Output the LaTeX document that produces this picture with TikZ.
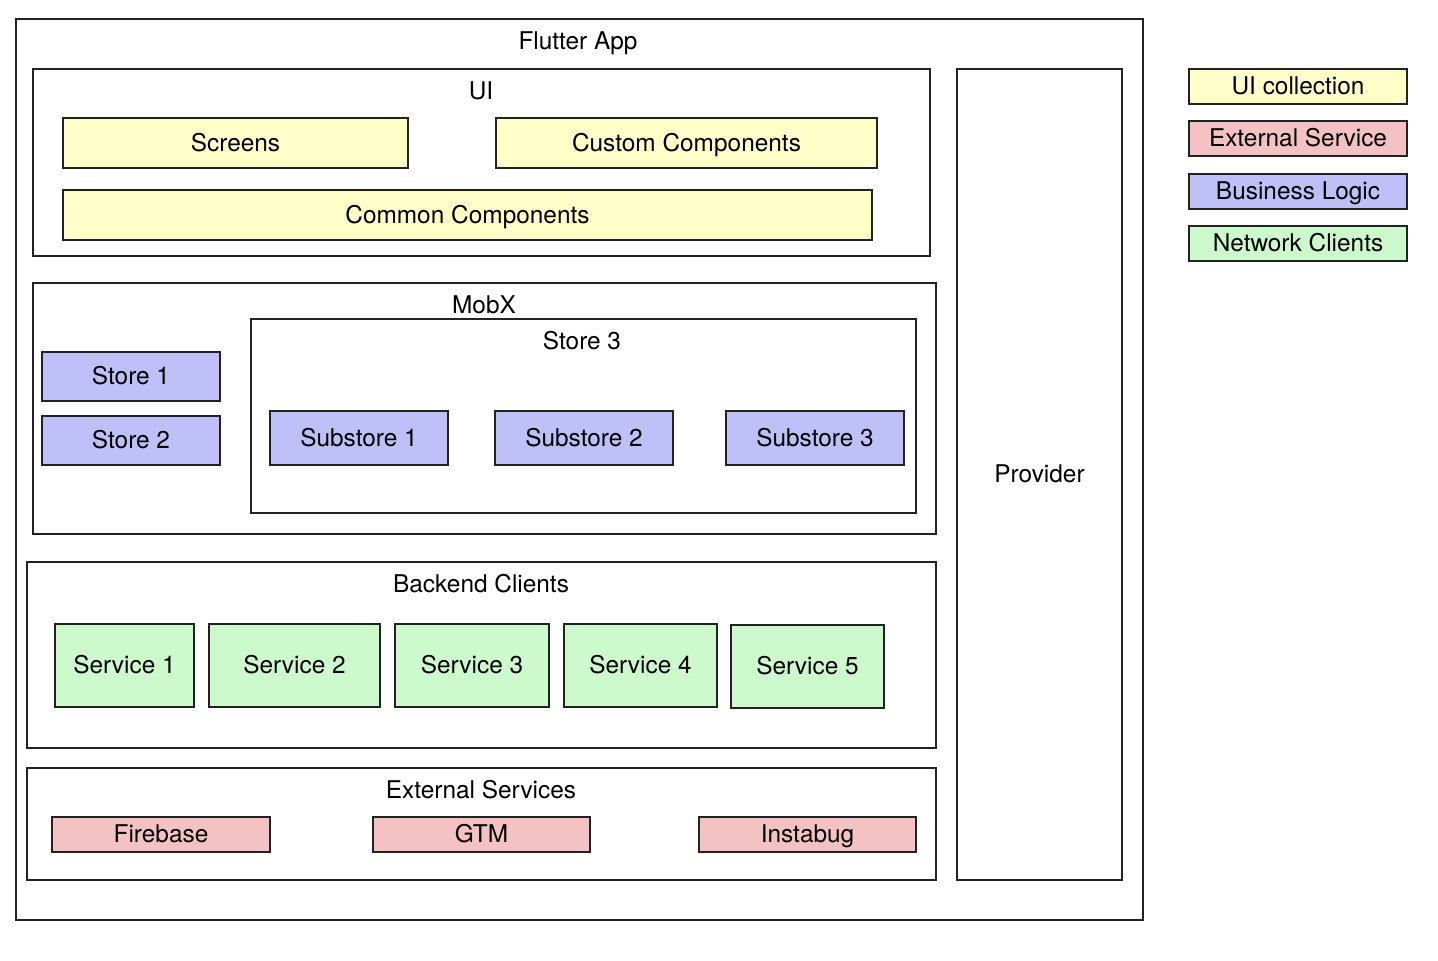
\documentclass[tikz,border=0pt]{standalone}
\usepackage{fontspec}
\setmainfont{TeX Gyre Heros}
\usetikzlibrary{fit}
\definecolor{uiy}{HTML}{FFFDC8}
\definecolor{extr}{HTML}{F4C2C2}
\definecolor{bizb}{HTML}{C0C0F8}
\definecolor{netg}{HTML}{CCFACC}
\definecolor{edge}{HTML}{222222}
\tikzset{
  base/.style={draw=edge, line width=0.7pt, rectangle, inner sep=0pt},
  frame/.style={base, fill=white},
  ybox/.style={base, fill=uiy},
  rbox/.style={base, fill=extr},
  bbox/.style={base, fill=bizb},
  gbox/.style={base, fill=netg},
  lbl/.style={inner sep=0pt, text height=1.95ex, text depth=0.35ex, font=\fontsize{12.2}{14}\selectfont}
}
\begin{document}
\begin{tikzpicture}[x=0.5pt,y=-0.5pt]
\useasboundingbox (0,0) rectangle (1438,960);
% containers
\node[frame, fit={(16,19) (1143,920)}] (app) {};
\node[lbl] (applbl) at (578,41) {Flutter App};
\node[frame, fit={(33,69) (930,256)}] (ui) {};
\node[lbl] (uilbl) at (481,91) {UI};
\node[frame, fit={(33,283) (936,534)}] (mobx) {};
\node[lbl] (mobxlbl) at (484,305) {MobX};
\node[frame, fit={(251,319) (916,513)}] (store3) {};
\node[lbl] (store3lbl) at (582,341) {Store 3};
\node[frame, fit={(27,562) (936,748)}] (backend) {};
\node[lbl] (backendlbl) at (481,584) {Backend Clients};
\node[frame, fit={(27,768) (936,880)}] (ext) {};
\node[lbl] (extlbl) at (481,790) {External Services};
\node[frame, fit={(957,69) (1122,880)}] (provider) {};
\node[lbl] (providerlbl) at (provider.center) {Provider};
% UI
\node[ybox, fit={(63,118) (408,168)}] (screens) {};
\node[lbl] at (screens.center) {Screens};
\node[ybox, fit={(496,118) (877,168)}] (custom) {};
\node[lbl] at (custom.center) {Custom Components};
\node[ybox, fit={(63,190) (872,240)}] (common) {};
\node[lbl] at (common.center) {Common Components};
% MobX
\node[bbox, fit={(42,352) (220,401)}] (s1) {};
\node[lbl] at (s1.center) {Store 1};
\node[bbox, fit={(42,416) (220,465)}] (s2) {};
\node[lbl] at (s2.center) {Store 2};
\node[bbox, fit={(270,411) (448,465)}] (ss1) {};
\node[lbl] at (ss1.center) {Substore 1};
\node[bbox, fit={(495,411) (673,465)}] (ss2) {};
\node[lbl] at (ss2.center) {Substore 2};
\node[bbox, fit={(726,411) (904,465)}] (ss3) {};
\node[lbl] at (ss3.center) {Substore 3};
% Backend
\node[gbox, fit={(55,624) (194,707)}] (sv1) {};
\node[lbl] at (sv1.center) {Service 1};
\node[gbox, fit={(209,624) (380,707)}] (sv2) {};
\node[lbl] at (sv2.center) {Service 2};
\node[gbox, fit={(395,624) (549,707)}] (sv3) {};
\node[lbl] at (sv3.center) {Service 3};
\node[gbox, fit={(564,624) (717,707)}] (sv4) {};
\node[lbl] at (sv4.center) {Service 4};
\node[gbox, fit={(731,625) (884,708)}] (sv5) {};
\node[lbl] at (sv5.center) {Service 5};
% External
\node[rbox, fit={(52,817) (270,852)}] (fb) {};
\node[lbl] at (fb.center) {Firebase};
\node[rbox, fit={(373,817) (590,852)}] (gtm) {};
\node[lbl] at (gtm.center) {GTM};
\node[rbox, fit={(699,817) (916,852)}] (ib) {};
\node[lbl] at (ib.center) {Instabug};
% Legend
\node[ybox, fit={(1189,69) (1407,104)}] (lg1) {};
\node[lbl] at (lg1.center) {UI collection};
\node[rbox, fit={(1189,121) (1407,156)}] (lg2) {};
\node[lbl] at (lg2.center) {External Service};
\node[bbox, fit={(1189,174) (1407,209)}] (lg3) {};
\node[lbl] at (lg3.center) {Business Logic};
\node[gbox, fit={(1189,226) (1407,261)}] (lg4) {};
\node[lbl] at (lg4.center) {Network Clients};
\end{tikzpicture}
\end{document}
